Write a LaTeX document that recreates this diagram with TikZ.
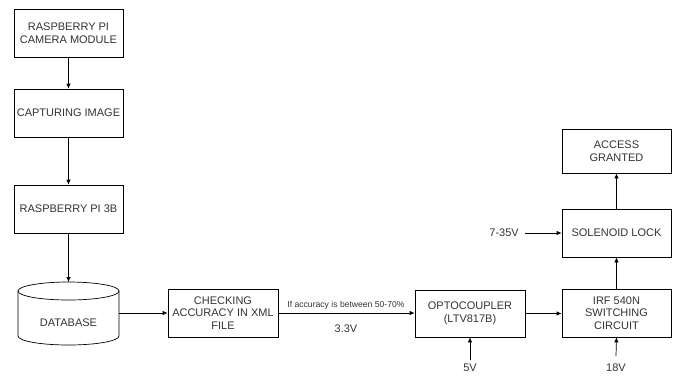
\documentclass[tikz,border=0pt]{standalone}
\usepackage{fontspec}
\setmainfont{Liberation Sans}
\usetikzlibrary{arrows.meta}
\definecolor{txt}{HTML}{333333}
\begin{document}
\begin{tikzpicture}[x=1pt,y=-1pt,
  blk/.style={draw, line width=0.7pt, minimum width=109pt, minimum height=48pt, inner sep=0pt,
    align=center, font=\fontsize{11}{12.5}\selectfont, text=txt},
  lbl/.style={inner sep=0pt, font=\fontsize{11}{12.5}\selectfont, text=txt},
  arr/.style={line width=0.7pt, -{Latex[length=5pt,width=4.5pt]}}]
\useasboundingbox (0,0) rectangle (677,376);
\node[blk] (cam) at (68.5,33) {RASPBERRY PI\\CAMERA MODULE};
\node[blk] (cap) at (68.5,113) {CAPTURING IMAGE};
\node[blk] (rpi) at (68.5,209) {RASPBERRY PI 3B};
% database cylinder
\node[minimum width=101pt, minimum height=63pt, inner sep=0pt] (db) at (68.5,313.5) {};
\draw[line width=0.7pt] (18,291) -- (18,336) arc[start angle=180,end angle=0,x radius=50.5,y radius=9] -- (119,291)
  arc[start angle=0,end angle=-180,x radius=50.5,y radius=9] -- cycle;
\draw[line width=0.7pt] (18,291) arc[start angle=180,end angle=0,x radius=50.5,y radius=9];
\node[lbl] (dbt) at (68.5,323) {DATABASE};
\node[blk, minimum width=110pt] (chk) at (223,313) {CHECKING\\ACCURACY IN XML\\FILE};
\node[blk, minimum width=110pt, minimum height=47pt] (opt) at (470,313.5) {OPTOCOUPLER\\(LTV817B)};
\node[blk] (irf) at (616.5,313) {IRF 540N\\SWITCHING\\CIRCUIT};
\node[blk] (sol) at (616.5,233) {SOLENOID LOCK};
\node[blk, minimum height=44pt] (acc) at (616.5,151) {ACCESS\\GRANTED};
\node[lbl] (v5) at (470,368) {5V};
\node[lbl] (v18) at (616,368) {18V};
\node[lbl, anchor=east] (v735) at (519,233) {7-35V};
\node[lbl, font=\fontsize{8.6}{10}\selectfont] (cond) at (346,305) {If accuracy is between 50-70\%};
\node[lbl] (v33) at (346,329) {3.3V};
\coordinate (p5) at (470,360);
\coordinate (p18) at (616,356);
\coordinate (p735) at (525,233);
\draw[arr] (cam) -- (cap);
\draw[arr] (cap) -- (rpi);
\draw[arr] (rpi.south) -- (68.5,282);
\draw[arr] (119,313) -- (chk.west);
\draw[arr] (chk.east) -- (opt.west |- chk.east);
\draw[arr] (opt.east) -- (irf.west |- opt.east);
\draw[arr] (p5) -- (opt.south);
\draw[arr] (p18) -- (irf.south);
\draw[arr] (irf) -- (sol);
\draw[arr] (sol) -- (acc);
\draw[arr] (p735) -- (sol.west);
\end{tikzpicture}
\end{document}
